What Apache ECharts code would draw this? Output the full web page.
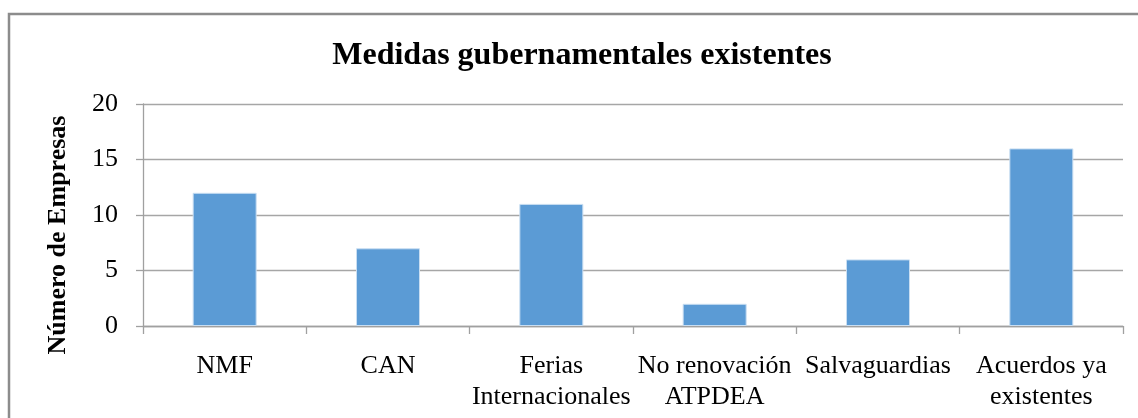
<!DOCTYPE html>
<html>
<head>
<meta charset="utf-8">
<script src="https://cdn.jsdelivr.net/npm/echarts@6/dist/echarts.min.js"></script>
<style>
  html, body { margin: 0; padding: 0; background: #fff; }
  #chart { width: 1138px; height: 418px; }
</style>
</head>
<body>
<div id="chart"></div>
<script>
// datos del grafico
const categorias = ["NMF", "CAN", "Ferias\nInternacionales", "No renovación\nATPDEA", "Salvaguardias", "Acuerdos ya\nexistentes"]
const empresas = [12, 7, 11, 2, 6, 16]
const yTicks = [0, 5, 10, 15, 20]

const fuente = "'Liberation Serif', 'Times New Roman', serif"
let myChart = echarts.init(document.getElementById("chart"))

myChart.setOption({
  animation: false,
  title: {
    text: "Medidas gubernamentales existentes",
    left: 577,
    top: 35,
    textAlign: "center",
    textStyle: {
      fontFamily: fuente,
      fontWeight: "bold",
      fontSize: 32,
      color: "#000"
    }
  },
  graphic: [
    {
      type: "rect",
      silent: true,
      shape: { x: 9, y: 14, width: 1200, height: 500 },
      style: { fill: "none", stroke: "#8c8c8c", lineWidth: 2.5 }
    },
    {
      type: "text",
      silent: true,
      x: 58,
      y: 235,
      rotation: Math.PI / 2,
      style: {
        text: "Número de Empresas",
        font: "bold 26px " + fuente,
        fill: "#000",
        align: "center",
        verticalAlign: "middle"
      }
    }
  ],
  grid: {
    left: 143,
    right: 15,
    top: 104,
    bottom: 92
  },
  xAxis: {
    type: "category",
    data: categorias,
    axisLine: { lineStyle: { color: "#a0a0a0", width: 1.3 } },
    axisTick: { show: true, length: 8, alignWithLabel: false, lineStyle: { color: "#a0a0a0", width: 1.3 } },
    axisLabel: {
      interval: 0,
      margin: 25,
      fontFamily: fuente,
      fontSize: 26,
      lineHeight: 31,
      color: "#000"
    }
  },
  yAxis: {
    type: "value",
    min: yTicks[0],
    max: yTicks[yTicks.length - 1],
    interval: yTicks[1] - yTicks[0],
    axisLine: { show: true, lineStyle: { color: "#a0a0a0", width: 1.3 } },
    axisTick: { show: true, length: 7, lineStyle: { color: "#a0a0a0", width: 1.3 } },
    splitLine: { show: true, lineStyle: { color: "#a6a6a6", width: 1.3 } },
    axisLabel: {
      margin: 25,
      fontFamily: fuente,
      fontSize: 26,
      color: "#000"
    }
  },
  series: [
    {
      type: "bar",
      data: empresas,
      barWidth: 64,
      itemStyle: {
        color: "#5b9bd5",
        borderColor: "#c9def2",
        borderWidth: 1
      }
    }
  ]
})
</script>
</body>
</html>
